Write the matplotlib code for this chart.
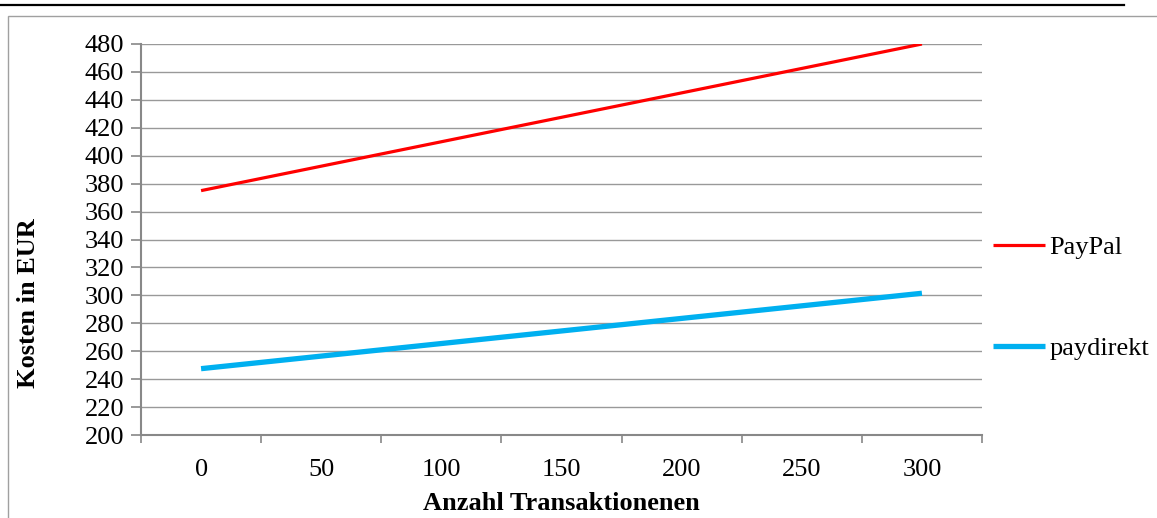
import matplotlib.pyplot as plt
from matplotlib.lines import Line2D
from matplotlib.patches import Rectangle

plt.rcParams['font.family'] = ['Liberation Serif', 'DejaVu Serif']

# Daten
transaktionen = ["0", "50", "100", "150", "200", "250", "300"]
paypal = [375, 392.5, 410, 427.5, 445, 462.5, 480]
paydirekt = [247.5, 256.5, 265.5, 274.5, 283.5, 292.5, 301.5]
y_ticks = list(range(200, 481, 20))

FS = 19
W, H = 1157, 518
fig = plt.figure(figsize=(W / 100, H / 100), dpi=100)

# Rahmen und Linie oben
fig.add_artist(Line2D([0, 1124 / W], [1 - 5 / H, 1 - 5 / H], color="black", lw=1.6))
fig.add_artist(Rectangle((8 / W, -0.1), 1.2, 1 - 16 / H + 0.1, transform=fig.transFigure,
                         fill=False, edgecolor="#a0a0a0", lw=1.0))

ax = fig.add_axes([141 / W, 1 - 435 / H, (982 - 141) / W, (435 - 44) / H])
x = list(range(len(transaktionen)))
ax.plot(x, paypal, color="#ff0000", lw=2.3, label="PayPal", solid_capstyle="butt")
ax.plot(x, paydirekt, color="#00b0f0", lw=3.8, label="paydirekt", solid_capstyle="butt")

ax.set_xlim(-0.5, len(transaktionen) - 0.5)
ax.set_ylim(200, 480)
ax.set_yticks(y_ticks)
ax.set_xticks(x)
ax.set_xticklabels(transaktionen)
ax.set_xticks([i - 0.5 for i in range(len(transaktionen) + 1)], minor=True)
ax.tick_params(axis="x", which="major", length=0, labelsize=FS, pad=17)
ax.tick_params(axis="x", which="minor", length=6, color="#888888", width=1.2, direction="out")
ax.tick_params(axis="y", length=7, color="#888888", width=1.2, labelsize=FS, pad=5)

ax.grid(axis="y", color="#999999", lw=1.0)
ax.set_axisbelow(True)
for s in ["top", "right"]:
    ax.spines[s].set_visible(False)
for s in ["left", "bottom"]:
    ax.spines[s].set_color("#888888")
    ax.spines[s].set_linewidth(1.5)

ax.set_ylabel("Kosten in EUR", fontsize=FS, fontweight="bold", va="center")
ax.yaxis.set_label_coords(-113 / 841, (435 - 303) / 391)
ax.set_xlabel("Anzahl Transaktionenen", fontsize=FS, fontweight="bold", va="center")
ax.xaxis.set_label_coords(0.5, -(503 - 435) / 391)

ax.legend(loc="upper left", bbox_to_anchor=(1.0, 0.537), frameon=False, fontsize=FS,
          handlelength=2.0, handletextpad=0.15, labelspacing=2.95, borderaxespad=0.0)

fig.savefig("out.png", dpi=100)
